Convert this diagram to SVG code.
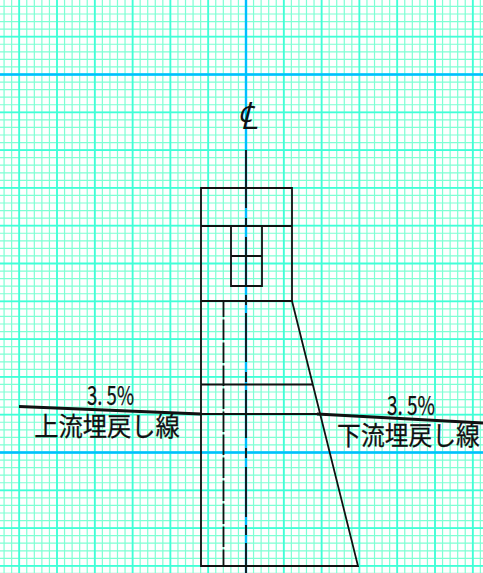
<svg xmlns="http://www.w3.org/2000/svg" width="483" height="573" viewBox="0 0 483 573">
<style>
.s{fill:none;stroke:#111;stroke-width:1.8}
.t{font-family:"Noto Sans CJK JP","Noto Sans CJK SC",sans-serif;fill:#111;stroke:#111;stroke-width:.25}
.mn{fill:none;stroke:#7fffd4;stroke-dasharray:1.2 6.36}
.mj{fill:none;stroke:#40ffd8;stroke-dasharray:1.8 36}
</style>
<rect width="483" height="573" fill="#fff"/>
<g id="grid">
<path class="mn" d="M-4.08 286.500H483" stroke-width="573"/>
<path class="mn" d="M241.500 -1.700V573" stroke-width="483"/>
<path class="mj" d="M-19.500 286.500H483" stroke-width="573"/>
<path class="mj" d="M241.500 -2V573" stroke-width="483"/>
<path d="M246 0V573M0 74.500H483M0 452.500H483" fill="none" stroke="#00bfff" stroke-width="2.400"/>
</g>
<g id="connectors">
<path class="s" d="M246 150V208M246 218V227M246 237V287M246 295V305M246 313V362M246 372V382M246 390V438M246 448V458M246 467V517M246 525V535M246 543V573"/>
<path class="s" d="M223.500 301V566" stroke-dasharray="20.500 2.500" stroke-dashoffset="4.500"/>
<path d="M19 406.500L201 414M317 414L483 423" fill="none" stroke="#111" stroke-width="3"/>
</g>
<g id="body">
<path class="s" d="M201 188H292V301H201ZM201 226H292M231 226H262V286H231ZM231 256H262"/>
<path class="s" d="M201 301V566H358L292 301M201 384.500H313M201 414H318"/>
</g>
<g id="labels">
<text x="247" y="129" font-size="38" text-anchor="middle" font-style="italic" font-family="Noto Sans CJK JP,sans-serif" fill="#111">℄</text>
<text class="t" x="110.500" y="405" font-size="26" textLength="47" lengthAdjust="spacingAndGlyphs" text-anchor="middle">3. 5%</text>
<text class="t" text-anchor="middle" font-size="24.300" transform="translate(107 436) scale(1 1.08)">上流埋戻し線</text>
<text class="t" x="411" y="415" font-size="26" textLength="48" lengthAdjust="spacingAndGlyphs" text-anchor="middle">3. 5%</text>
<text class="t" text-anchor="middle" font-size="23.800" transform="translate(408.500 445) scale(1 1.08)">下流埋戻し線</text>
</g>
</svg>
